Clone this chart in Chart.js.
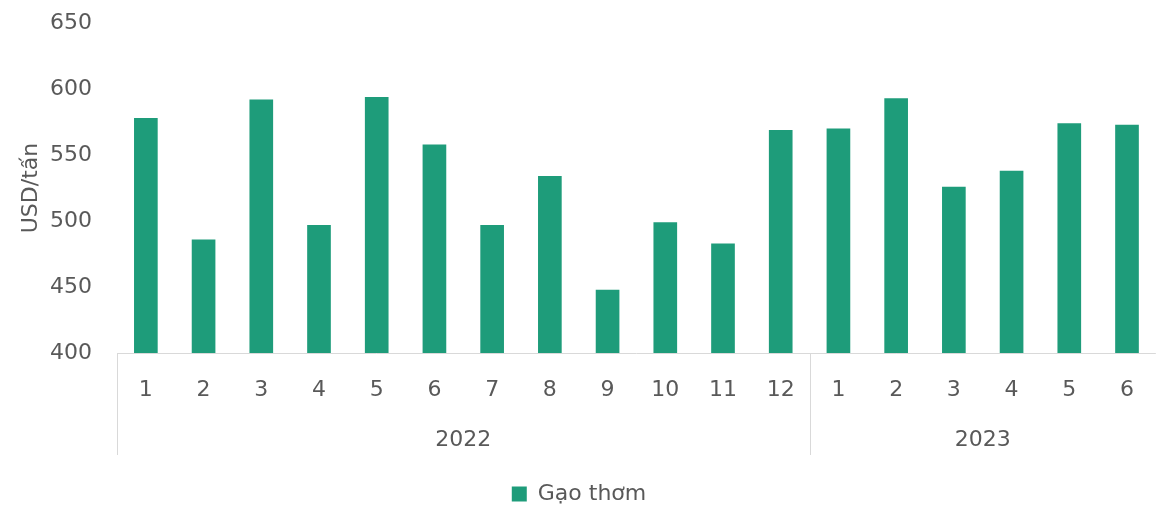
<!DOCTYPE html>
<html lang="vi">
<head>
    <meta charset="UTF-8">
    <title>Giá gạo thơm</title>
    <script src="https://cdn.jsdelivr.net/npm/chart.js"></script>
    <style>
        html, body { margin: 0; padding: 0; background: #fff; }
        #wrap { width: 1158px; height: 507px; }
    </style>
</head>
<body>
<div id="wrap"><canvas id="grafico"></canvas></div>

<script>
    // dữ liệu
    const months = ['1','2','3','4','5','6','7','8','9','10','11','12','1','2','3','4','5','6'];
    const years = ['2022', '2023'];
    const yearSizes = [12, 6];
    const giaGaoThom = [578, 486, 592, 497, 594, 558, 497, 534, 448, 499, 483, 569, 570, 593, 526, 538, 574, 573];

    const textColor = '#595959';
    const lineColor = '#d9d9d9';
    const fontFam = "'DejaVu Sans', sans-serif";

    // vẽ trục hai tầng (tháng / năm)
    const yearAxis = {
        id: 'yearAxis',
        afterDraw(chart) {
            const x = chart.scales.x;
            const ctx = chart.ctx;
            const step = x.getPixelForValue(1) - x.getPixelForValue(0);
            const axisBottom = x.top + 102;
            ctx.save();
            ctx.strokeStyle = lineColor;
            ctx.lineWidth = 1;
            ctx.beginPath();
            ctx.moveTo(x.left, x.top + 0.5);
            ctx.lineTo(x.right, x.top + 0.5);
            ctx.stroke();

            let start = 0;
            ctx.fillStyle = textColor;
            ctx.font = '22px ' + fontFam;
            ctx.textAlign = 'center';
            ctx.textBaseline = 'middle';
            years.forEach((yr, i) => {
                const left = x.getPixelForValue(start) - step / 2;
                const right = x.getPixelForValue(start + yearSizes[i] - 1) + step / 2;
                const lx = Math.round(left) + 0.5;
                ctx.beginPath();
                ctx.moveTo(lx, x.top);
                ctx.lineTo(lx, axisBottom);
                ctx.stroke();
                ctx.fillText(yr, (left + right) / 2, x.top + 87);
                start += yearSizes[i];
            });
            ctx.restore();
        }
    };

    const ctx = document.getElementById('grafico').getContext('2d');
    const chart = new Chart(ctx, {
        type: 'bar',
        data: {
            labels: months,
            datasets: [{
                label: 'Gạo thơm',
                data: giaGaoThom,
                backgroundColor: '#1e9c7a',
                borderWidth: 0,
                barPercentage: 0.41,
                categoryPercentage: 1
            }]
        },
        options: {
            responsive: true,
            maintainAspectRatio: false,
            animation: false,
            layout: { padding: { top: 23, right: 0, bottom: -8, left: 0 } },
            plugins: {
                legend: {
                    position: 'bottom',
                    labels: {
                        color: textColor,
                        font: { size: 22, family: fontFam },
                        boxWidth: 15,
                        boxHeight: 15,
                        padding: 3
                    }
                },
                tooltip: { enabled: false }
            },
            scales: {
                x: {
                    grid: { display: false, drawTicks: false },
                    border: { display: false },
                    ticks: {
                        color: textColor,
                        font: { size: 22, family: fontFam },
                        padding: 24,
                        maxRotation: 0,
                        autoSkip: false
                    },
                    afterFit(s) { s.height = 127; }
                },
                y: {
                    min: 400,
                    max: 650,
                    grid: { display: false, drawTicks: false },
                    border: { display: false },
                    ticks: {
                        stepSize: 50,
                        color: textColor,
                        font: { size: 22, family: fontFam },
                        padding: 25
                    },
                    title: {
                        display: true,
                        text: 'USD/tấn',
                        color: textColor,
                        font: { size: 22, family: fontFam },
                        padding: { top: 18, bottom: 0 }
                    },
                    afterFit(s) {
                        s.width = 117;
                        s.paddingTop = 0;
                        s.paddingBottom = 0;
                    }
                }
            }
        },
        plugins: [yearAxis]
    });
</script>
</body>
</html>
